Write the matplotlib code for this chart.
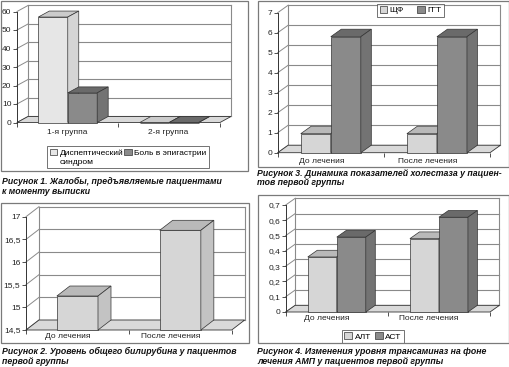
import matplotlib
matplotlib.use('Agg')
import matplotlib.pyplot as plt
from matplotlib.patches import Polygon, Rectangle
from matplotlib.transforms import ScaledTranslation
import numpy as np

plt.rcParams['font.family'] = ['Liberation Sans', 'DejaVu Sans']

W, H, DPI = 510, 367, 100

# ---------------- data ----------------
fig1_cats = ['1-я группа', '2-я группа']
fig1_dysp = [57, 0]
fig1_pain = [16, 0]
fig1_names = ['Диспептический', 'Боль в эпигастрии']
fig1_name_tail = 'синдром'
fig1_ticks = [0, 10, 20, 30, 40, 50, 60]

fig2_cats = ['До лечения', 'После лечения']
fig2_bili = [15.25, 16.7]
fig2_ticks = [14.5, 15, 15.5, 16, 16.5, 17]

fig3_cats = ['До лечения', 'После лечения']
fig3_alp = [0.95, 0.95]
fig3_ggt = [5.8, 5.8]
fig3_names = ['ЩФ', 'ГГТ']
fig3_ticks = [0, 1, 2, 3, 4, 5, 6, 7]

fig4_cats = ['До лечения', 'После лечения']
fig4_alt = [0.36, 0.48]
fig4_ast = [0.49, 0.62]
fig4_names = ['АЛТ', 'АСТ']
fig4_ticks = [0, 0.1, 0.2, 0.3, 0.4, 0.5, 0.6, 0.7]

captions = {
    1: ['Рисунок 1. Жалобы, предъявляемые пациентами', 'к моменту выписки'],
    2: ['Рисунок 2. Уровень общего билирубина у пациентов', 'первой группы'],
    3: ['Рисунок 3. Динамика показателей холестаза у пациен-', 'тов первой группы'],
    4: ['Рисунок 4. Изменения уровня трансаминаз на фоне', 'лечения АМП у пациентов первой группы'],
}

LIGHT = dict(front='#e6e6e6', top='#cbcbcb', side='#d5d5d5')
MID = dict(front='#d6d6d6', top='#b9b9b9', side='#c3c3c3')
DARK = dict(front='#8a8a8a', top='#6a6a6a', side='#737373')
EDGE = '#333333'
GRID = '#8a8a8a'
FS = 6

fig = plt.figure(figsize=(W / DPI, H / DPI), dpi=DPI)


def fmt(v):
    s = ('%g' % v)
    return s.replace('.', ',')


def px_axes(x0, x1, ytop, ybot):
    return fig.add_axes([x0 / W, 1 - ybot / H, (x1 - x0) / W, (ybot - ytop) / H])


def panel_box(x0, y0, x1, y1):
    fig.add_artist(Rectangle((x0 / W, 1 - y1 / H), (x1 - x0) / W, (y1 - y0) / H,
                             transform=fig.transFigure, fill=False, ec='#7a7a7a', lw=0.9))


def caption(x, y, lines):
    for i, line in enumerate(lines):
        fig.text(x / W, 1 - (y + i * 10) / H, line, fontsize=6.3, fontweight='bold',
                 style='italic', va='center', ha='left', color='#111111')


def chart3d(ax, cats, series, colors, ticks, depth, width, label_dx, xpad=4):
    n = len(cats)
    vmin, vmax = ticks[0], ticks[-1]
    ax.set_xlim(0, n)
    ax.set_ylim(vmin, vmax)
    for sp in ax.spines.values():
        sp.set_visible(False)
    ax.patch.set_visible(False)

    # depth offset (pixels) -> data units
    p0 = ax.transData.transform((0, vmin))
    p1 = ax.transData.inverted().transform(p0 + np.array(depth, dtype=float))
    ddx, ddy = p1[0], p1[1] - vmin

    # back wall and left wall lines
    for t in ticks:
        ax.plot([ddx, n + ddx], [t + ddy, t + ddy], color=GRID, lw=0.8, zorder=1, clip_on=False)
        ax.plot([0, ddx], [t, t + ddy], color=GRID, lw=0.7, zorder=1, clip_on=False)
    ax.plot([ddx, ddx], [vmin + ddy, vmax + ddy], color=GRID, lw=0.8, zorder=1, clip_on=False)
    ax.plot([n + ddx, n + ddx], [vmin + ddy, vmax + ddy], color=GRID, lw=0.8, zorder=1, clip_on=False)
    # floor
    ax.add_patch(Polygon([(0, vmin), (n, vmin), (n + ddx, vmin + ddy), (ddx, vmin + ddy)],
                         closed=True, fc='#d9d9d9', ec=EDGE, lw=0.6, zorder=2, clip_on=False))
    ax.plot([0, 0], [vmin, vmax], color=EDGE, lw=0.7, zorder=2, clip_on=False)

    # bars
    ns = len(series)
    handles = []
    for s, (vals, col) in enumerate(zip(series, colors)):
        x = np.arange(n) + 0.5 - ns * width / 2 + s * width
        z = 3 + s
        cont = ax.bar(x, np.array(vals) - vmin, width=width, bottom=vmin, align='edge',
                      color=col['front'], ec=EDGE, lw=0.5, zorder=z, clip_on=False)
        handles.append(cont)
        for xi, v in zip(x, vals):
            xr = xi + width
            ax.add_patch(Polygon([(xi, v), (xr, v), (xr + ddx, v + ddy), (xi + ddx, v + ddy)],
                                 closed=True, fc=col['top'], ec=EDGE, lw=0.5, zorder=z, clip_on=False))
            ax.add_patch(Polygon([(xr, vmin), (xr, v), (xr + ddx, v + ddy), (xr + ddx, vmin + ddy)],
                                 closed=True, fc=col['side'], ec=EDGE, lw=0.5, zorder=z, clip_on=False))

    # ticks
    ax.set_yticks(ticks, [fmt(t) for t in ticks])
    ax.tick_params(axis='y', length=3, width=0.6, pad=1, labelsize=FS, color=EDGE, labelcolor='#222222')
    ax.set_xticks(np.arange(n) + 0.5, cats)
    ax.set_xticks(np.arange(n + 1), minor=True)
    ax.tick_params(axis='x', which='major', length=0, pad=xpad, labelsize=FS, labelcolor='#222222')
    ax.tick_params(axis='x', which='minor', length=3, width=0.6, color=EDGE)
    for lab in ax.get_xticklabels():
        lab.set_transform(lab.get_transform() + ScaledTranslation(label_dx / DPI, 0, fig.dpi_scale_trans))
    return handles


def legend(ax, handles, names, x, y, ncol, colsp=0.9):
    leg = ax.legend(handles, names, ncol=ncol, loc='upper left',
                    bbox_to_anchor=(x / W, 1 - y / H), bbox_transform=fig.transFigure,
                    frameon=True, fancybox=False, edgecolor=EDGE, fontsize=FS,
                    handlelength=0.9, handleheight=0.9, handletextpad=0.3,
                    columnspacing=colsp, borderpad=0.3, borderaxespad=0, labelspacing=0.05)
    leg.get_frame().set_linewidth(0.6)
    leg.set_zorder(10)
    return leg


# ---------- Figure 1 (top left) ----------
panel_box(1, 1, 248, 171)
ax1 = px_axes(17, 220, 11.5, 122.5)
h1 = chart3d(ax1, fig1_cats, [fig1_dysp, fig1_pain], [LIGHT, DARK], fig1_ticks,
             depth=(11, 6), width=0.29, label_dx=-1, xpad=5)
blank = Rectangle((0, 0), 1, 1, fill=False, lw=0, ec='none')
legend(ax1, [h1[0], blank, h1[1], blank],
       [fig1_names[0], fig1_name_tail, fig1_names[1], ''], 47, 146, 2, colsp=0.1)
caption(2, 181.5, captions[1])

# ---------- Figure 3 (top right) ----------
panel_box(258, 1, 509, 167)
ax3 = px_axes(277.7, 490, 12.7, 152.7)
h3 = chart3d(ax3, fig3_cats, [fig3_alp, fig3_ggt], [MID, DARK], fig3_ticks,
             depth=(10.5, 7.5), width=0.283, label_dx=-9)
legend(ax3, h3, fig3_names, 377, 3.5, 2, colsp=1.6)
caption(257, 173, captions[3])

# ---------- Figure 2 (bottom left) ----------
panel_box(1, 203, 249, 343)
ax2 = px_axes(26, 231.7, 216.7, 330)
chart3d(ax2, fig2_cats, [fig2_bili], [MID], fig2_ticks,
        depth=(13, 10), width=0.4, label_dx=-10, xpad=2.5)
caption(2, 351.5, captions[2])

# ---------- Figure 4 (bottom right) ----------
panel_box(258, 195, 509, 343)
ax4 = px_axes(285.7, 490, 205, 312)
h4 = chart3d(ax4, fig4_cats, [fig4_alt, fig4_ast], [MID, DARK], fig4_ticks,
             depth=(9.5, 6.7), width=0.284, label_dx=-10, xpad=2.5)
legend(ax4, h4, fig4_names, 342, 330, 2, colsp=0.5)
caption(257, 351.5, captions[4])

fig.savefig('out.png', dpi=DPI)
